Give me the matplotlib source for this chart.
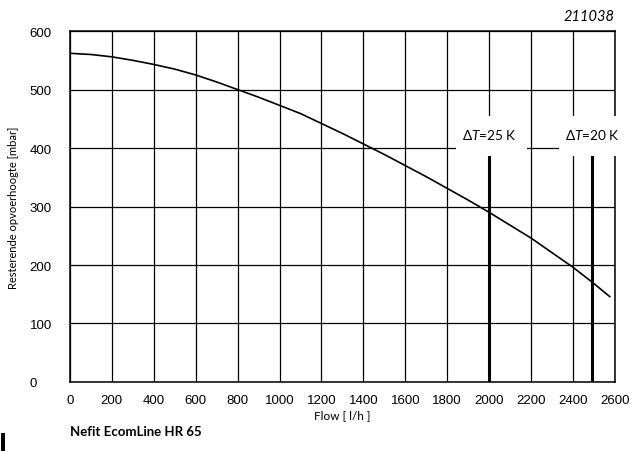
import matplotlib.pyplot as plt
from matplotlib.patches import Rectangle

flow = [0, 100, 200, 300, 400, 500, 600, 700, 800, 900, 1000, 1100, 1200, 1300,
        1400, 1500, 1600, 1700, 1800, 1900, 2000, 2100, 2200, 2300, 2400, 2490, 2575]
head = [562, 560, 556, 550, 543, 535, 525, 513, 500, 487, 473, 459, 442, 425,
        407, 389, 370, 351, 331, 311, 290, 268, 246, 221, 196, 171, 146]
dt_flows = [2000, 2490]
dt_labels = ["$\\Delta T$=25 K", "$\\Delta T$=20 K"]
dt_top = 386
x_ticks = list(range(0, 2601, 200))
y_ticks = list(range(0, 601, 100))

plt.rcParams['font.family'] = ['Liberation Sans', 'DejaVu Sans']
plt.rcParams['mathtext.fontset'] = 'custom'
plt.rcParams['mathtext.it'] = 'Lato:italic'
plt.rcParams['mathtext.rm'] = 'Lato'

fig = plt.figure(figsize=(6.35, 4.52), dpi=100)
ax = fig.add_axes([0.110, 0.1527, 0.8585, 0.7763])

ax.set_xlim(0, 2600)
ax.set_ylim(0, 600)
ax.set_xticks(x_ticks)
ax.set_yticks(y_ticks)
ax.grid(True, color='black', linewidth=0.9)
ax.set_axisbelow(True)
ax.tick_params(length=0, labelsize=9.5)
ax.tick_params(axis='x', pad=9)
for lbl in ax.get_yticklabels():
    lbl.set_horizontalalignment('left')
ax.tick_params(axis='y', pad=29)
for sp in ax.spines.values():
    sp.set_linewidth(1.1)

ax.plot(flow, head, color='black', linewidth=1.2, zorder=3)

for xf, lab in zip(dt_flows, dt_labels):
    ax.plot([xf, xf], [0, dt_top], color='black', linewidth=2.2, zorder=3)
    ax.add_patch(Rectangle((xf - 158, dt_top), 338, 68, facecolor='white',
                           edgecolor='none', zorder=4, clip_on=False))
    ax.text(xf + 3, 424, lab, ha='center', va='center', fontsize=9.8,
            family='Lato', zorder=5, clip_on=False)

ax.set_xlabel("Flow [ l/h ]", fontsize=8.5, family='Lato', labelpad=2)
ax.set_ylabel("Resterende opvoerhoogte [mbar]", fontsize=8, family='Lato')
ax.yaxis.set_label_coords(-0.093, 0.5)

fig.text(0.968, 0.947, "211038", ha='right', va='bottom', fontsize=10.5,
         style='italic', family='Lato')
fig.text(0.110, 0.044, "Nefit EcomLine HR 65", ha='left', va='center',
         fontsize=9.5, weight='bold', family='Lato')
fig.patches.append(Rectangle((0.002, 0.0), 0.006, 0.04, facecolor='black',
                             transform=fig.transFigure, figure=fig))

fig.savefig("out.png", dpi=100)
